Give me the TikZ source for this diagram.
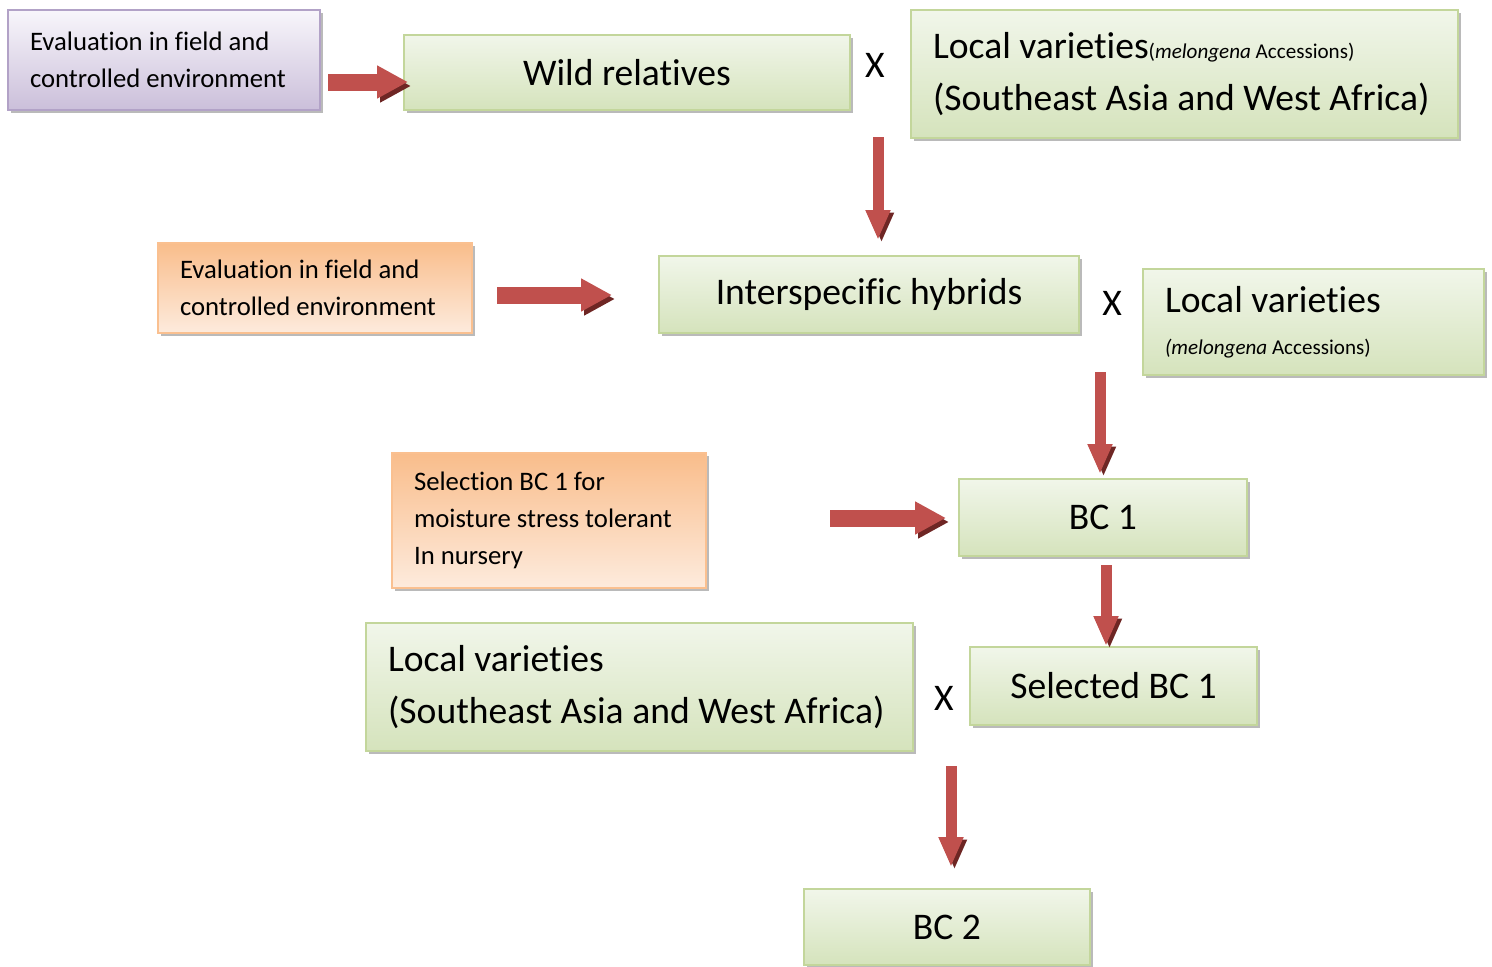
\documentclass[tikz,border=0pt]{standalone}
\usepackage{fontspec}
\setmainfont{Carlito}[RawFeature=-liga]
\usetikzlibrary{arrows.meta,shadows}

\definecolor{greenline}{HTML}{C3D69B}
\definecolor{greentop}{HTML}{F1F6EA}
\definecolor{greenbottom}{HTML}{D5E3BC}
\definecolor{purpleline}{HTML}{B2A2C7}
\definecolor{purpletop}{HTML}{F8F6FB}
\definecolor{purplebottom}{HTML}{CBBFDA}
\definecolor{orangeline}{HTML}{FAC090}
\definecolor{orangetop}{HTML}{F9BD8B}
\definecolor{orangebottom}{HTML}{FDEBDD}
\definecolor{arrowred}{HTML}{C0504D}
\definecolor{arrowdark}{HTML}{6E2624}

\newcommand\bigtxt{\fontsize{21.4}{30}\selectfont}
\newcommand\smalltxt{\fontsize{15.2}{21}\selectfont}
\newcommand\tinytxt{\fontsize{12}{14}\selectfont}

\begin{document}
\begin{tikzpicture}[x=0.02cm,y=-0.02cm]
  % Define styles for boxes, crosses and arrows
  \tikzset{
    box/.style={rectangle, line width=0.05cm,
      drop shadow={shadow xshift=0.06cm, shadow yshift=-0.06cm, fill=black!45, opacity=0.6}},
    greenbox/.style={box, draw=greenline, top color=greentop, bottom color=greenbottom, font=\bigtxt},
    purplebox/.style={box, draw=purpleline, top color=purpletop, bottom color=purplebottom,
      font=\smalltxt, align=flush left, inner xsep=0.44cm},
    orangebox/.style={box, draw=orangeline, shading angle=200, top color=orangetop, bottom color=orangebottom,
      font=\smalltxt, align=flush left, inner xsep=0.44cm},
    leftgreen/.style={greenbox, align=flush left, inner xsep=0.44cm},
    cross node/.style={font=\bigtxt},
    hbar/.style={draw=arrowred, line width=0.34cm,
      -{Triangle[length=0.62cm,width=0.62cm]},
      preaction={draw=arrowdark, transform canvas={shift={(0.06cm,-0.08cm)}}}},
    vbar/.style={draw=arrowred, line width=0.22cm,
      -{Triangle[length=0.6cm,width=0.46cm]},
      preaction={draw=arrowdark, transform canvas={shift={(0.07cm,-0.05cm)}}}}
  }
  \useasboundingbox (0,0) rectangle (1492,967);

  % First row
  \node[purplebox, text width=5.36cm, minimum height=2cm] (evalwild) at (164,60)
    {Evaluation in field and\\controlled environment};
  \node[greenbox, minimum width=8.92cm, minimum height=1.5cm] (wild) at (627,72.5) {Wild relatives};
  \node[cross node] (x1) at (875,65) {X};
  \node[leftgreen, text width=10.06cm, minimum height=2.56cm] (local1) at (1184.5,74)
    {\mbox{Local varieties{\tinytxt(\textit{melongena} Accessions)}}\\\mbox{(Southeast Asia and West Africa)}};

  % Second row
  \node[orangebox, text width=5.4cm, minimum height=1.8cm] (evalhyb) at (315,288)
    {Evaluation in field and\\controlled environment};
  \node[greenbox, minimum width=8.4cm, minimum height=1.54cm] (hybrid) at (869,294.5) {Interspecific hybrids};
  \node[cross node] (x2) at (1112,303) {X};
  \node[leftgreen, text width=5.94cm, minimum height=2.12cm] (local2) at (1313.5,322)
    {Local varieties\\[-6pt]{\tinytxt\textit{(melongena} Accessions)}};

  % Third row
  \node[orangebox, text width=5.4cm, minimum height=2.7cm] (sel) at (549,520.5)
    {Selection BC 1 for\\moisture stress tolerant\\In nursery};
  \node[greenbox, minimum width=5.76cm, minimum height=1.54cm] (bc1) at (1103,517.5) {BC 1};

  % Fourth row
  \node[leftgreen, text width=10.06cm, minimum height=2.56cm] (local3) at (639.5,687)
    {Local varieties\\\mbox{(Southeast Asia and West Africa)}};
  \node[cross node] (x3) at (944,698) {X};
  \node[greenbox, minimum width=5.74cm, minimum height=1.56cm] (selbc1) at (1113.5,686) {Selected BC 1};

  % Last row
  \node[greenbox, minimum width=5.72cm, minimum height=1.52cm] (bc2) at (947,927) {BC 2};

  % Arrow ends
  \coordinate (a1s) at (328,82);   \coordinate (a1e) at (408,82);
  \coordinate (a2s) at (497,295);  \coordinate (a2e) at (612,295);
  \coordinate (a3s) at (830,518);  \coordinate (a3e) at (946,518);
  \coordinate (d1s) at (878,137);  \coordinate (d1e) at (878,240);
  \coordinate (d2s) at (1100,372); \coordinate (d2e) at (1100,474);
  \coordinate (d3s) at (1106,565); \coordinate (d3e) at (1106,646);
  \coordinate (d4s) at (951,766);  \coordinate (d4e) at (951,867);

  % Arrows
  \draw[hbar] (a1s) -- (a1e);
  \draw[hbar] (a2s) -- (a2e);
  \draw[hbar] (a3s) -- (a3e);
  \draw[vbar] (d1s) -- (d1e);
  \draw[vbar] (d2s) -- (d2e);
  \draw[vbar] (d3s) -- (d3e);
  \draw[vbar] (d4s) -- (d4e);
\end{tikzpicture}
\end{document}
